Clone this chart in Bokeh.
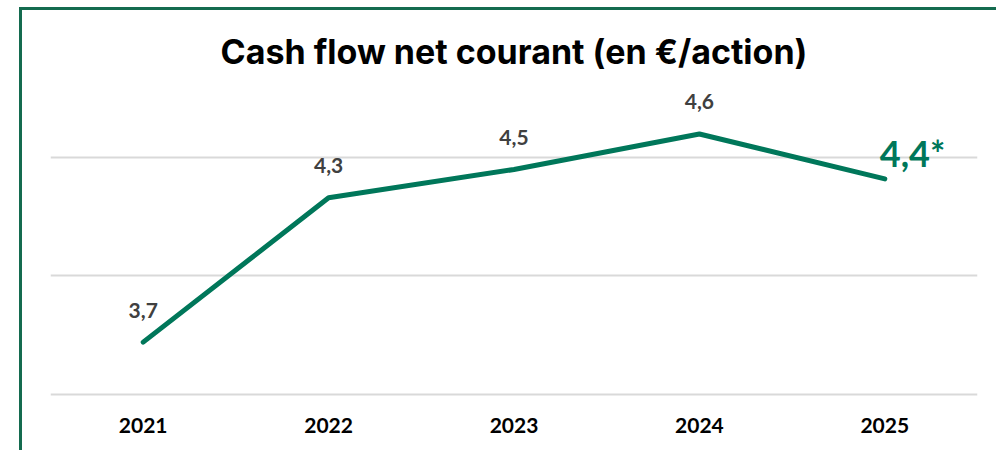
from bokeh.plotting import figure
from bokeh.models import ColumnDataSource, FixedTicker, Title
from bokeh.core.properties import value
from bokeh.embed import file_html
from bokeh.resources import INLINE

years = ["2021", "2022", "2023", "2024", "2025"]
cash_flow = [3.72, 4.33, 4.45, 4.60, 4.41]
labels = ["3,7", "4,3", "4,5", "4,6", ""]
last_label = ["4,4*"]
grid_ticks = [3.5, 4.0, 4.5]

GREEN = "#00775A"
BORDER = "#146B4F"

p = figure(width=977, height=443, x_range=years, y_range=(3.49, 4.826),
           output_backend="svg", toolbar_location=None,
           min_border_left=28, min_border_right=22, min_border_top=70, min_border_bottom=57)
p.margin = (7, 0, 0, 19)
p.styles = {"border-left": f"3px solid {BORDER}", "border-top": f"3px solid {BORDER}"}
p.outline_line_color = None
p.background_fill_color = "white"
p.border_fill_color = "white"

src = ColumnDataSource(dict(x=years, y=cash_flow, lab=labels))
p.line("x", "y", source=src, line_color=GREEN, line_width=5, line_cap="round", line_join="round")
p.text("x", "y", text="lab", source=src, text_align="center", text_baseline="middle",
       y_offset=-32, text_color="#404040", text_font=value("Lato"), text_font_style="bold",
       text_font_size="21px")
p.text(x=[years[-1]], y=[cash_flow[-1]], text=last_label, text_align="left", text_baseline="middle",
       x_offset=-5, y_offset=-26, text_color=GREEN, text_font=value("Lato"), text_font_style="bold",
       text_font_size="36px")

p.yaxis.visible = False
p.yaxis.ticker = FixedTicker(ticks=grid_ticks)
p.ygrid.ticker = FixedTicker(ticks=grid_ticks)
p.ygrid.grid_line_color = "#D9D9D9"
p.ygrid.grid_line_width = 2
p.xgrid.grid_line_color = None

xa = p.xaxis[0]
xa.axis_line_color = None
xa.major_tick_line_color = None
xa.minor_tick_line_color = None
xa.major_label_standoff = 15
xa.major_label_text_font = "Lato"
xa.major_label_text_font_style = "bold"
xa.major_label_text_font_size = "21px"
xa.major_label_text_color = "#000000"

t = Title(text="Cash flow net courant (en €/action)", align="center",
          text_font="Inter", text_font_style="bold", text_font_size="34px",
          text_color="#000000", standoff=18)
p.add_layout(t, "above")

open("out.html", "w").write(file_html(p, INLINE))
